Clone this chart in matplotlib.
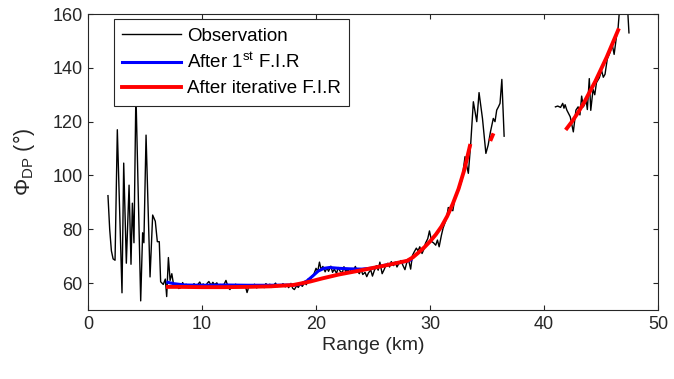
import matplotlib
matplotlib.use("Agg")
import matplotlib.pyplot as plt

plt.rcParams['font.family'] = ['Liberation Sans', 'DejaVu Sans']
plt.rcParams['mathtext.fontset'] = 'custom'
plt.rcParams['mathtext.rm'] = 'Liberation Sans'
plt.rcParams['mathtext.it'] = 'Liberation Sans:italic'
plt.rcParams['mathtext.bf'] = 'Liberation Sans:bold'

# ---- Observation, near segment (km, deg) ----
obs1_range = [1.75, 1.9, 2.05, 2.2, 2.37, 2.57, 2.98, 3.13, 3.36, 3.6, 3.77, 3.89, 4.03, 4.2,
              4.62, 4.79, 4.9, 5.09, 5.44, 5.67, 5.9, 6.08, 6.25, 6.37, 6.6, 6.78, 6.9, 7.05,
              7.2, 7.35, 7.5,
              7.65, 7.8, 7.95, 8.1, 8.3, 8.45, 8.6, 8.8, 8.95, 9.1, 9.3, 9.45, 9.6, 9.8, 9.95,
              10.1, 10.3, 10.45, 10.6, 10.8, 10.95, 11.1, 11.3, 11.45, 11.6, 11.8, 11.95, 12.1,
              12.3, 12.45, 12.6, 12.8, 12.95, 13.1, 13.3, 13.45, 13.6, 13.8, 13.95, 14.1, 14.3,
              14.45, 14.6, 14.8, 14.95, 15.1, 15.3, 15.45, 15.6, 15.8, 15.95, 16.1, 16.3, 16.45,
              16.6, 16.8, 16.95, 17.1, 17.3, 17.45, 17.6, 17.8, 17.95, 18.1, 18.3, 18.45, 18.6,
              18.8, 19.0, 19.15, 19.3, 19.5, 19.65, 19.8, 20.0, 20.15, 20.3, 20.45, 20.6, 20.8,
              20.95, 21.1, 21.3, 21.45, 21.6, 21.8, 21.95, 22.1, 22.3, 22.45, 22.6, 22.8, 22.95,
              23.1, 23.3, 23.45, 23.6, 23.8, 23.95, 24.1, 24.3, 24.45, 24.6, 24.8, 24.95, 25.1,
              25.3, 25.45, 25.6, 25.8, 25.95, 26.1, 26.3, 26.45, 26.6, 26.8, 26.95, 27.1, 27.3,
              27.45, 27.6, 27.8, 27.95, 28.1, 28.3, 28.45, 28.6, 28.8, 28.95, 29.1, 29.3, 29.45,
              29.6, 29.8, 29.95, 30.15, 30.3, 30.5, 30.65, 30.8, 31.0, 31.15, 31.3, 31.45, 31.6,
              31.8, 32.0, 32.2, 32.4, 32.57, 32.8, 33.07, 33.2, 33.36, 33.57, 33.8, 34.1, 34.3,
              34.6, 34.9, 35.1, 35.3, 35.55, 35.7, 35.85, 36.0, 36.14, 36.3, 36.5]
obs1_phi = [92.5, 80.0, 72.0, 69.0, 68.5, 117.0, 56.4, 104.6, 67.4, 96.4, 67.0, 89.7, 75.0, 131.0,
            53.4, 78.7, 75.0, 115.0, 62.3, 85.3, 83.0, 75.4, 75.4, 60.5, 59.5, 61.5, 55.0, 69.5,
            61.0, 63.5, 59.5,
            58.5, 59.5, 58.0, 58.2, 60.2, 58.8, 59.6, 58.3, 59.2, 58.6, 59.8, 58.4, 59.3, 60.4, 59.1,
            59.7, 58.7, 59.9, 60.6, 59.2, 60.3, 59.4, 60.1, 58.8, 59.5, 58.6, 59.7, 61.0,
            58.4, 57.6, 59.2, 58.9, 59.6, 58.8, 59.4, 58.7, 59.1, 58.9, 56.5, 58.6, 59.2,
            58.5, 59.6, 58.2, 59.1, 58.7, 59.4, 58.3, 59.8, 59.0, 59.6, 58.4, 59.3, 60.0,
            58.7, 59.4, 58.9, 59.8, 58.6, 59.5, 58.3, 59.9, 58.1, 57.6, 59.0, 58.4, 59.6,
            58.8, 60.2, 59.4, 61.5, 61.0, 62.6, 63.2, 65.5, 64.3, 67.8, 65.0, 66.2, 64.2,
            65.7, 64.4, 66.3, 64.0, 65.2, 63.6, 65.8, 64.5, 63.8, 66.1, 64.3, 65.0, 63.9,
            65.4, 64.8, 66.2, 64.6, 63.5, 65.1, 63.2, 64.0, 62.4, 63.8, 64.9, 62.6, 64.5,
            66.5, 64.8, 67.8, 63.5, 64.8, 66.3, 67.4, 66.0, 68.0, 66.5, 67.8, 66.0, 67.5,
            68.4, 66.8, 65.0, 67.5, 69.0, 65.2, 70.2, 71.5, 73.0, 72.0, 73.5, 71.0, 72.5,
            74.8, 76.5, 79.4, 75.4, 75.0, 74.1, 76.0, 73.5, 77.8, 80.5, 82.2, 84.0, 88.1,
            87.5, 86.9, 92.1, 94.0, 95.2, 98.3, 107.0, 104.0, 100.8, 111.9, 127.4, 120.0, 130.8,
            121.2, 108.2, 111.3, 116.2, 121.2, 120.0, 124.3, 125.5, 126.8, 135.7, 114.6]

# ---- Observation, far segment ----
obs2_range = [41.0, 41.2, 41.45, 41.64, 41.75, 41.85, 42.0, 42.3, 42.57, 42.8, 42.99, 43.15, 43.3,
              43.45, 43.7, 43.8, 43.97, 44.1, 44.3, 44.45, 44.6, 44.85, 45.05, 45.2, 45.35, 45.55,
              45.8, 46.0, 46.15, 46.35, 46.5, 46.7, 46.9, 47.05, 47.2, 47.45]
obs2_phi = [125.5, 125.8, 125.3, 126.8, 125.0, 126.3, 124.3, 121.8, 116.2, 124.3, 125.5, 122.5, 129.5,
            125.5, 127.7, 124.5, 136.0, 124.2, 132.0, 130.0, 134.5, 136.3, 139.0, 136.5, 137.6, 143.3,
            145.8, 148.3, 145.0, 151.5, 155.0, 166.0, 170.0, 162.0, 172.0, 153.0]

# ---- After 1st F.I.R ----
fir1_range = [7.0, 7.5, 8.5, 10.0, 12.0, 14.0, 16.0, 18.0, 18.6, 19.2, 19.7, 20.2, 20.7, 21.2,
              22.0, 23.0, 24.0, 25.0, 26.0, 27.0, 28.0, 28.3]
fir1_phi = [60.3, 59.8, 59.3, 59.2, 59.3, 59.2, 59.2, 59.3, 59.5, 60.8, 62.6, 64.5, 65.5, 65.8,
            65.5, 65.3, 65.2, 65.6, 66.6, 67.4, 68.2, 68.6]

# ---- After iterative F.I.R ----
firi1_range = [7.0, 8.0, 10.0, 12.0, 14.0, 16.0, 18.0, 18.6, 19.5, 20.5, 22.0, 24.0, 26.0, 28.0,
               28.5, 29.0, 29.5, 30.0, 30.5, 31.0, 31.5, 32.0, 32.5, 33.0, 33.5]
firi1_phi = [58.6, 58.6, 58.5, 58.5, 58.6, 58.8, 59.3, 59.8, 60.6, 61.7, 63.2, 64.8, 66.5, 68.3,
             69.6, 71.4, 73.3, 75.5, 78.0, 81.0, 84.8, 89.5, 95.0, 102.0, 111.0]
firi2_range = [35.35, 35.5]
firi2_phi = [113.5, 115.0]
firi3_range = [42.0, 42.5, 43.0, 43.5, 44.0, 44.5, 45.0, 45.5, 46.0, 46.5]
firi3_phi = [117.5, 120.3, 123.5, 127.0, 131.0, 135.0, 139.5, 144.0, 149.0, 154.0]

x_ticks = [0, 10, 20, 30, 40, 50]
y_ticks = [60, 80, 100, 120, 140, 160]

dark = '#262626'
fig = plt.figure(figsize=(6.74, 3.79), dpi=100)
ax = fig.add_axes([0.1306, 0.182, 0.8457, 0.781])

ax.plot(obs1_range, obs1_phi, color='black', lw=1.0, label='Observation')
ax.plot(obs2_range, obs2_phi, color='black', lw=1.0)
ax.plot(fir1_range, fir1_phi, color='#0000ff', lw=2.2, label=r'After 1$^{\rm st}$ F.I.R')
ax.plot(firi1_range, firi1_phi, color='#ff0000', lw=2.8, label='After iterative F.I.R')
ax.plot(firi2_range, firi2_phi, color='#ff0000', lw=2.8)
ax.plot(firi3_range, firi3_phi, color='#ff0000', lw=2.8)

ax.set_xlim(0, 50)
ax.set_ylim(50, 160)
ax.set_xticks(x_ticks)
ax.set_yticks(y_ticks)
ax.tick_params(direction='in', top=True, right=True, length=3.5, width=0.8,
               labelsize=13, colors=dark, labelcolor=dark, pad=4)
for s in ax.spines.values():
    s.set_color(dark)
    s.set_linewidth(0.8)

ax.set_xlabel('Range (km)', fontsize=14, color=dark, labelpad=3)
ax.set_ylabel(r'$\Phi_{\rm DP}$ (°)', fontsize=15.5, color=dark, labelpad=11)

leg = ax.legend(loc='upper left', bbox_to_anchor=(0.045, 0.982), fontsize=13.5,
                frameon=True, fancybox=False, framealpha=1, edgecolor=dark,
                handlelength=3.15, handletextpad=0.32, borderpad=0.45, labelspacing=0.42,
                borderaxespad=0)
leg.get_frame().set_linewidth(0.8)

fig.savefig('out.png', dpi=100)
